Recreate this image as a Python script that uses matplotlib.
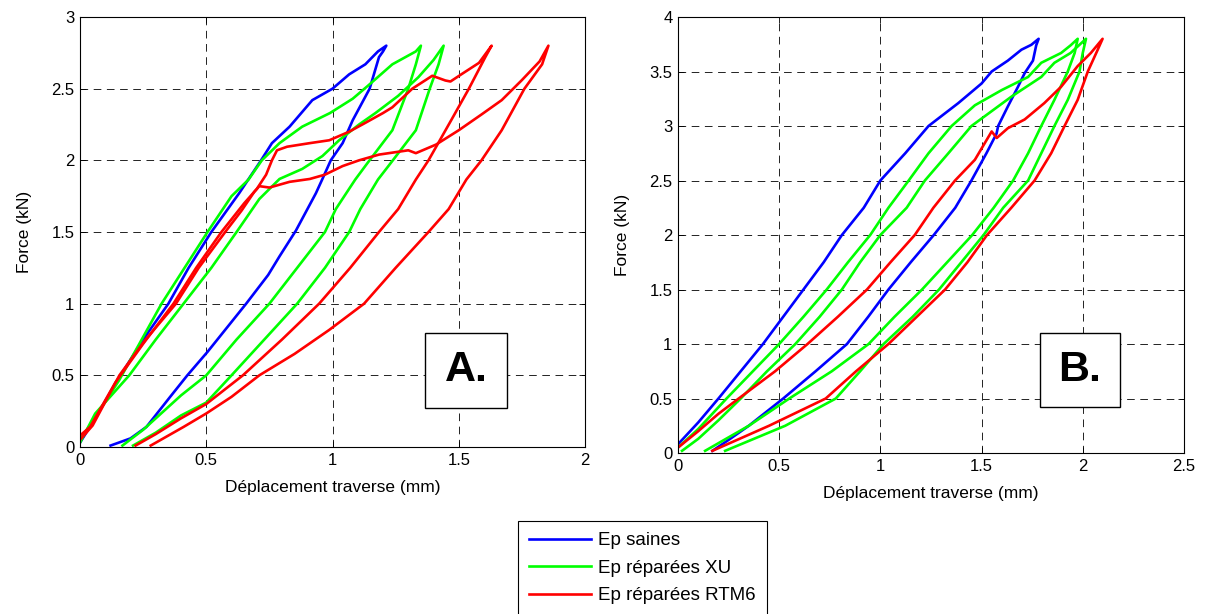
import numpy as np
import matplotlib
matplotlib.use('Agg')
import matplotlib.pyplot as plt
from matplotlib.patches import Rectangle
from matplotlib.ticker import FuncFormatter

# ---- Plot A : loops (load then unload), peak 2.8 kN ----
A_saine_x = [0.0, 0.06, 0.15, 0.25, 0.35, 0.43, 0.52, 0.63, 0.717, 0.76, 0.83, 0.92, 1.0, 1.066, 1.13, 1.18, 1.213,
             1.20, 1.184, 1.147, 1.08, 1.04, 0.993, 0.96, 0.934, 0.855, 0.79, 0.745, 0.658, 0.505, 0.425, 0.357, 0.263, 0.20, 0.121]
A_saine_y = [0.03, 0.20, 0.47, 0.75, 1.0, 1.25, 1.5, 1.77, 2.0, 2.12, 2.235, 2.42, 2.5, 2.6, 2.67, 2.76, 2.8,
             2.76, 2.72, 2.5, 2.28, 2.12, 2.0, 1.87, 1.77, 1.51, 1.33, 1.2, 1.0, 0.664, 0.5, 0.35, 0.14, 0.06, 0.01]

A_xu1_x = [0.0, 0.05, 0.155, 0.323, 0.505, 0.60, 0.667, 0.72, 0.79, 0.88, 0.99, 1.08, 1.14, 1.237, 1.33, 1.35,
           1.33, 1.30, 1.237, 1.138, 1.09, 1.013, 0.97, 0.86, 0.75, 0.62, 0.50, 0.40, 0.30, 0.25, 0.168]
A_xu1_y = [0.05, 0.18, 0.466, 1.0, 1.5, 1.75, 1.865, 2.0, 2.12, 2.235, 2.33, 2.43, 2.52, 2.67, 2.76, 2.8,
           2.67, 2.5, 2.21, 1.98, 1.866, 1.66, 1.5, 1.25, 1.0, 0.75, 0.5, 0.36, 0.2, 0.12, 0.01]

A_xu2_x = [0.0, 0.06, 0.195, 0.30, 0.41, 0.52, 0.62, 0.71, 0.79, 0.88, 0.96, 1.026, 1.105, 1.17, 1.26, 1.34, 1.40, 1.44,
           1.42, 1.385, 1.33, 1.23, 1.18, 1.11, 1.066, 0.97, 0.86, 0.73, 0.60, 0.50, 0.40, 0.30, 0.21]
A_xu2_y = [0.03, 0.233, 0.5, 0.75, 1.0, 1.25, 1.5, 1.73, 1.87, 1.94, 2.03, 2.14, 2.25, 2.33, 2.45, 2.58, 2.7, 2.8,
           2.67, 2.5, 2.21, 1.98, 1.866, 1.66, 1.5, 1.25, 1.0, 0.75, 0.5, 0.31, 0.22, 0.1, 0.01]

A_rtm1_x = [0.0, 0.04, 0.14, 0.25, 0.37, 0.46, 0.56, 0.65, 0.70, 0.737, 0.76, 0.78, 0.82, 0.91, 0.987, 1.066, 1.118, 1.20,
            1.237, 1.316, 1.395, 1.447, 1.467, 1.51, 1.58, 1.63,
            1.605, 1.54, 1.47, 1.38, 1.33, 1.26, 1.184, 1.07, 0.947, 0.80, 0.645, 0.50, 0.40, 0.30, 0.22]
A_rtm1_y = [0.08, 0.14, 0.45, 0.72, 1.0, 1.25, 1.5, 1.7, 1.8, 1.9, 2.0, 2.07, 2.095, 2.12, 2.14, 2.2, 2.25, 2.33,
            2.37, 2.5, 2.59, 2.557, 2.55, 2.6, 2.68, 2.8,
            2.72, 2.5, 2.28, 2.0, 1.866, 1.66, 1.5, 1.25, 1.0, 0.75, 0.5, 0.3, 0.2, 0.09, 0.01]

A_rtm2_x = [0.0, 0.05, 0.156, 0.26, 0.38, 0.47, 0.575, 0.64, 0.69, 0.71, 0.75, 0.83, 0.91, 0.97, 1.04, 1.105, 1.184,
            1.30, 1.33, 1.41, 1.50, 1.59, 1.67, 1.75, 1.82, 1.855,
            1.83, 1.76, 1.67, 1.59, 1.53, 1.46, 1.38, 1.25, 1.125, 0.987, 0.85, 0.71, 0.60, 0.50, 0.41, 0.28]
A_rtm2_y = [0.05, 0.15, 0.5, 0.75, 1.0, 1.25, 1.5, 1.65, 1.78, 1.82, 1.81, 1.85, 1.87, 1.9, 1.96, 2.0, 2.04,
            2.07, 2.05, 2.11, 2.21, 2.32, 2.42, 2.56, 2.69, 2.8,
            2.67, 2.5, 2.21, 2.0, 1.866, 1.66, 1.5, 1.25, 1.0, 0.817, 0.65, 0.5, 0.35, 0.234, 0.14, 0.01]

# ---- Plot B : loops, peak 3.8 kN ----
B_saine_x = [0.0, 0.10, 0.20, 0.31, 0.42, 0.52, 0.62, 0.72, 0.81, 0.918, 1.0, 1.123, 1.238, 1.385, 1.50, 1.55, 1.63, 1.697, 1.746, 1.782,
             1.77, 1.754, 1.713, 1.68, 1.63, 1.582, 1.574, 1.524, 1.45, 1.37, 1.264, 1.15, 1.04, 0.94, 0.835, 0.68, 0.52, 0.35, 0.25, 0.17]
B_saine_y = [0.08, 0.28, 0.5, 0.75, 1.0, 1.25, 1.5, 1.75, 2.0, 2.25, 2.5, 2.75, 3.0, 3.21, 3.39, 3.5, 3.6, 3.7, 3.745, 3.8,
             3.74, 3.6, 3.485, 3.36, 3.18, 3.0, 2.93, 2.75, 2.5, 2.25, 2.0, 1.75, 1.5, 1.25, 1.0, 0.75, 0.5, 0.25, 0.12, 0.02]

B_xu1_x = [0.0, 0.10, 0.24, 0.37, 0.50, 0.62, 0.735, 0.84, 0.95, 1.04, 1.14, 1.238, 1.352, 1.467, 1.60, 1.73, 1.795, 1.893, 1.94, 1.975,
           1.96, 1.926, 1.86, 1.795, 1.73, 1.656, 1.56, 1.454, 1.33, 1.206, 1.07, 0.942, 0.76, 0.55, 0.35, 0.134]
B_xu1_y = [0.05, 0.22, 0.5, 0.75, 1.0, 1.25, 1.5, 1.75, 2.0, 2.25, 2.5, 2.75, 3.0, 3.19, 3.33, 3.45, 3.58, 3.67, 3.74, 3.8,
           3.67, 3.5, 3.24, 3.0, 2.75, 2.5, 2.25, 2.0, 1.75, 1.5, 1.25, 1.0, 0.75, 0.5, 0.25, 0.02]

B_xu2_x = [0.02, 0.10, 0.20, 0.31, 0.44, 0.58, 0.70, 0.81, 0.90, 1.0, 1.13, 1.22, 1.336, 1.45, 1.648, 1.795, 1.86, 1.94, 2.016,
           2.0, 1.984, 1.926, 1.86, 1.795, 1.73, 1.607, 1.51, 1.40, 1.29, 1.16, 1.016, 0.90, 0.78, 0.53, 0.233]
B_xu2_y = [0.02, 0.13, 0.3, 0.5, 0.75, 1.0, 1.25, 1.5, 1.75, 2.0, 2.25, 2.5, 2.75, 3.0, 3.27, 3.45, 3.58, 3.67, 3.8,
           3.67, 3.5, 3.24, 3.0, 2.75, 2.5, 2.25, 2.0, 1.75, 1.5, 1.25, 1.0, 0.75, 0.5, 0.25, 0.02]

B_rtm_x = [0.0, 0.10, 0.20, 0.30, 0.48, 0.64, 0.79, 0.934, 1.05, 1.17, 1.262, 1.369, 1.467, 1.55, 1.575, 1.63, 1.713, 1.81,
           1.893, 1.975, 2.04, 2.098,
           2.074, 2.025, 1.975, 1.91, 1.844, 1.762, 1.647, 1.527, 1.43, 1.32, 1.18, 1.04, 0.88, 0.73, 0.45, 0.17]
B_rtm_y = [0.05, 0.2, 0.36, 0.5, 0.75, 1.0, 1.25, 1.5, 1.75, 2.0, 2.25, 2.5, 2.69, 2.95, 2.89, 2.98, 3.06, 3.21,
           3.36, 3.55, 3.67, 3.8,
           3.7, 3.5, 3.24, 3.0, 2.75, 2.5, 2.25, 2.0, 1.75, 1.5, 1.25, 1.0, 0.75, 0.5, 0.25, 0.02]

labels = ['Ep saines', 'Ep réparées XU', 'Ep réparées RTM6']
colors = ['#0000ff', '#00ff00', '#ff0000']

plt.rcParams['font.family'] = ['Liberation Sans', 'DejaVu Sans']
plt.rcParams['font.size'] = 12
plt.rcParams['lines.scale_dashes'] = False

fig = plt.figure(figsize=(12.07, 6.14), dpi=100)
axA = fig.add_axes([0.0663, 0.272, 0.4184, 0.7003])
axB = fig.add_axes([0.5617, 0.2622, 0.4192, 0.7101])

lw = 1.9
axA.plot(A_saine_x, A_saine_y, color=colors[0], lw=lw)
axA.plot(A_xu1_x, A_xu1_y, color=colors[1], lw=lw)
axA.plot(A_xu2_x, A_xu2_y, color=colors[1], lw=lw)
axA.plot(A_rtm1_x, A_rtm1_y, color=colors[2], lw=lw)
axA.plot(A_rtm2_x, A_rtm2_y, color=colors[2], lw=lw)

axB.plot(B_saine_x, B_saine_y, color=colors[0], lw=lw)
axB.plot(B_xu1_x, B_xu1_y, color=colors[1], lw=lw)
axB.plot(B_xu2_x, B_xu2_y, color=colors[1], lw=lw)
axB.plot(B_rtm_x, B_rtm_y, color=colors[2], lw=lw)

fmt = FuncFormatter(lambda v, p: f'{v:g}')
for ax, xmax, ymax, tag, box in [(axA, 2, 3, 'A.', (0.683, 0.091, 0.163, 0.174)),
                                  (axB, 2.5, 4, 'B.', (0.715, 0.105, 0.159, 0.170))]:
    ax.set_xlim(0, xmax)
    ax.set_ylim(0, ymax)
    ax.set_xticks(np.arange(0, xmax + 0.01, 0.5))
    ax.set_yticks(np.arange(0, ymax + 0.01, 0.5))
    ax.xaxis.set_major_formatter(fmt)
    ax.yaxis.set_major_formatter(fmt)
    ax.tick_params(direction='in', length=4, width=0.6, top=True, right=True, labelsize=12, pad=4)
    ax.grid(True, color='#222222', linestyle=(0, (5.5, 4)), linewidth=0.7)
    for s in ax.spines.values():
        s.set_linewidth(0.8)
    ax.set_xlabel('Déplacement traverse (mm)', fontsize=12.5, labelpad=9)
    ax.set_ylabel('Force (kN)', fontsize=12.5, labelpad=14)
    ax.add_patch(Rectangle((box[0], box[1]), box[2], box[3], transform=ax.transAxes,
                           facecolor='white', edgecolor='black', lw=1.0, zorder=5))
    ax.text(box[0] + box[2] / 2, box[1] + box[3] / 2, tag, transform=ax.transAxes,
            ha='center', va='center', fontsize=31, fontweight='bold', zorder=6)

handles = [plt.Line2D([], [], color=c, lw=lw) for c in colors]
leg = fig.legend(handles, labels, loc='upper left', bbox_to_anchor=(0.429, 0.1515),
                 borderaxespad=0, frameon=True, fancybox=False, framealpha=1, edgecolor='black',
                 fontsize=13.5, handlelength=3.3, handletextpad=0.37, labelspacing=0.55,
                 borderpad=0.6)
leg.get_frame().set_linewidth(0.8)

fig.savefig('out.png', dpi=100)
